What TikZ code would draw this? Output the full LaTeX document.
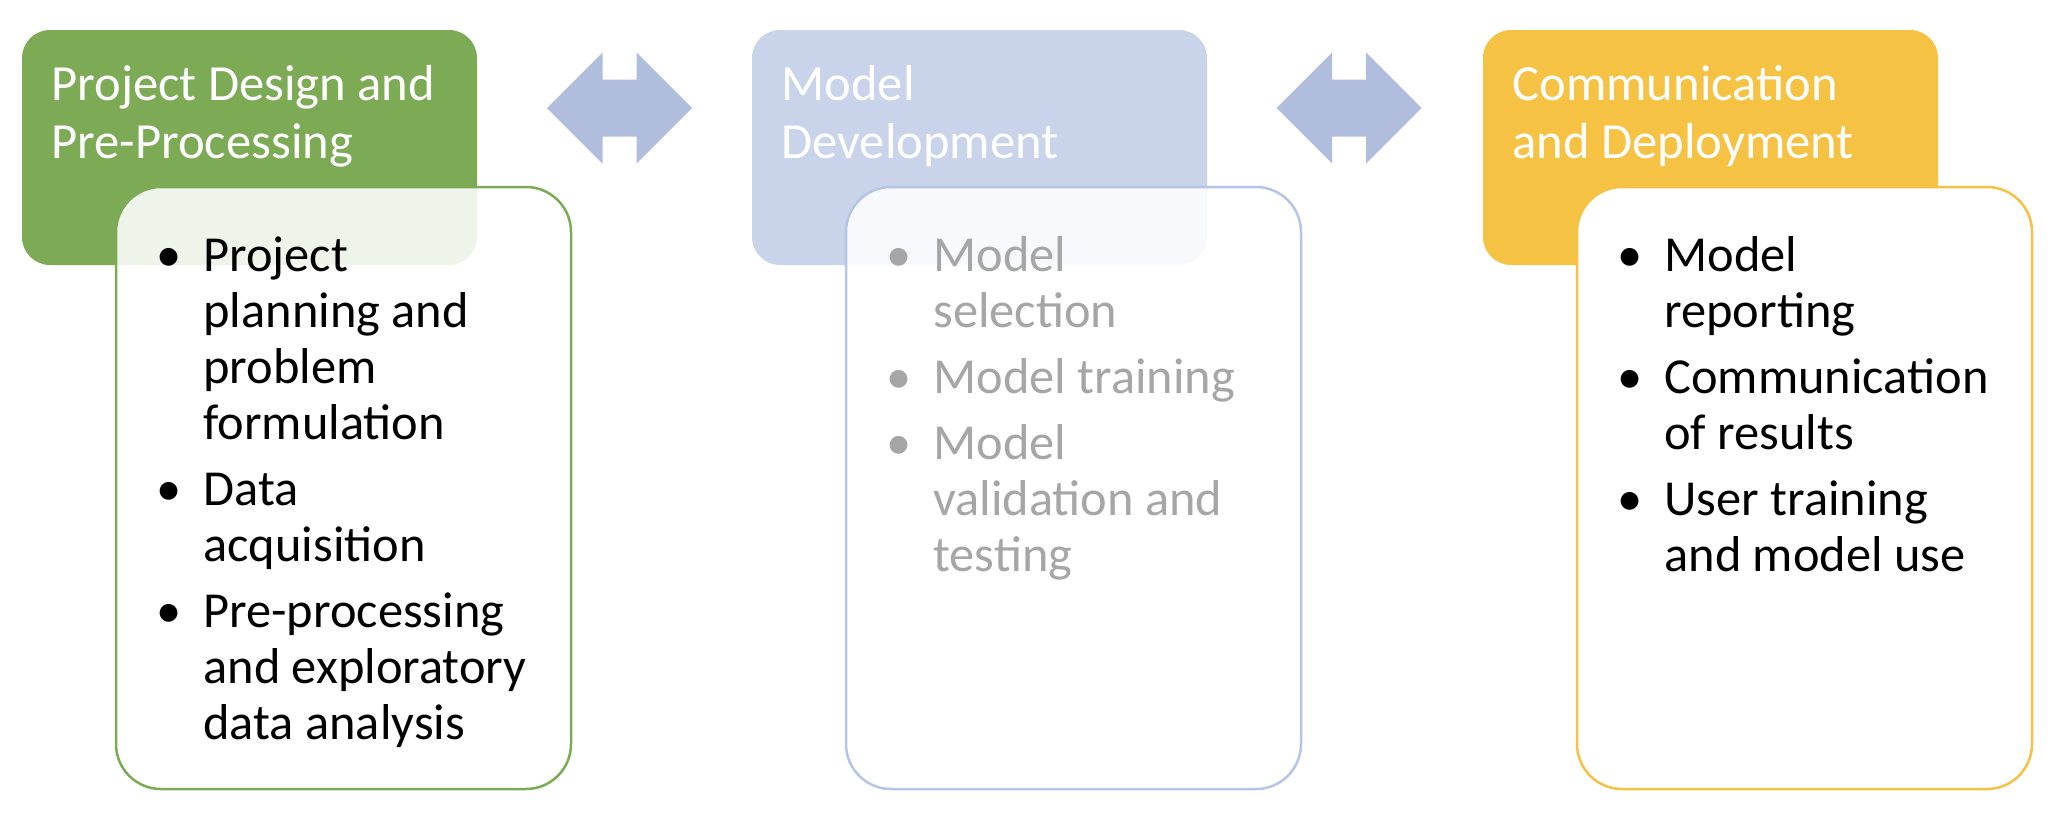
\documentclass[tikz,border=0pt]{standalone}
\usepackage{fontspec}
\setmainfont{Carlito}
\definecolor{hgreen}{HTML}{7DAB55}
\definecolor{hblue}{HTML}{C9D3EA}
\definecolor{bblue}{HTML}{B4C5E6}
\definecolor{hyellow}{HTML}{F5C244}
\definecolor{arrowc}{HTML}{B1BDDD}
\definecolor{fadetext}{HTML}{A6A6A6}
\newcommand\bitem[1]{\par\noindent\llap{\makebox[34pt][c]{\textbullet}}#1\par}
\newcommand\bgap{\vspace{5pt}}
\begin{document}
\begin{tikzpicture}[x=0.5pt,y=-0.5pt,
  hdr/.style={rectangle, rounded corners=14pt, minimum width=227.5pt, minimum height=117.5pt, inner sep=0pt, draw=none},
  bodybox/.style={rectangle, rounded corners=22.5pt, minimum width=227.5pt, minimum height=301pt, inner sep=0pt, line width=1.25pt, fill=white, fill opacity=0.88},
  ttl/.style={anchor=base west, inner sep=0pt, text=white, font=\fontsize{25.3pt}{29pt}\selectfont},
  body/.style={anchor=base west, inner sep=0pt, font=\fontsize{25.2pt}{28pt}\selectfont},
  dblarrow/.style={fill=arrowc, draw=none}
]
\useasboundingbox (0,0) rectangle (2060,832);
\fill[white] (0,0) rectangle (2060,832);

% headers
\node[hdr, fill=hgreen] (h1) at (249.5,147.5) {};
\node[hdr, fill=hblue] (h2) at (979.5,147.5) {};
\node[hdr, fill=hyellow] (h3) at (1710.5,147.5) {};

% body boxes
\node[bodybox, draw=hgreen] (b1) at (343.5,488) {};
\node[bodybox, draw=bblue] (b2) at (1073.5,488) {};
\node[bodybox, draw=hyellow, fill opacity=1] (b3) at (1804.5,488) {};

% titles
\node[ttl] (t1) at (51,100) {\begin{minipage}[t]{220pt}Project Design and\\Pre-Processing\end{minipage}};
\node[ttl] (t2) at (781,100) {\begin{minipage}[t]{220pt}Model\\Development\end{minipage}};
\node[ttl] (t3) at (1512,100) {\begin{minipage}[t]{220pt}Communication\\and Deployment\end{minipage}};

% bullet texts
\node[body, text=black] (l1) at (203,271) {\begin{minipage}[t]{180pt}%
\bitem{Project\\planning and\\problem\\formulation}\bgap
\bitem{Data\\acquisition}\bgap
\bitem{Pre-processing\\and exploratory\\data analysis}\end{minipage}};
\node[body, text=fadetext] (l2) at (933,271) {\begin{minipage}[t]{180pt}%
\bitem{Model\\selection}\bgap
\bitem{Model training}\bgap
\bitem{Model\\validation and\\testing}\end{minipage}};
\node[body, text=black] (l3) at (1664,271) {\begin{minipage}[t]{180pt}%
\bitem{Model\\reporting}\bgap
\bitem{Communication\\of results}\bgap
\bitem{User training\\and model use}\end{minipage}};

% double arrows
\coordinate (a1) at (619.5,108);
\coordinate (a2) at (1349,108);
\foreach \c in {a1,a2}{
  \fill[dblarrow, shift={(\c)}] (-72.5,0) -- (-17,-55.5) -- (-17,-28.5) -- (17,-28.5) -- (17,-55.5) -- (72.5,0) -- (17,55.5) -- (17,28.5) -- (-17,28.5) -- (-17,55.5) -- cycle;
}
\end{tikzpicture}
\end{document}
